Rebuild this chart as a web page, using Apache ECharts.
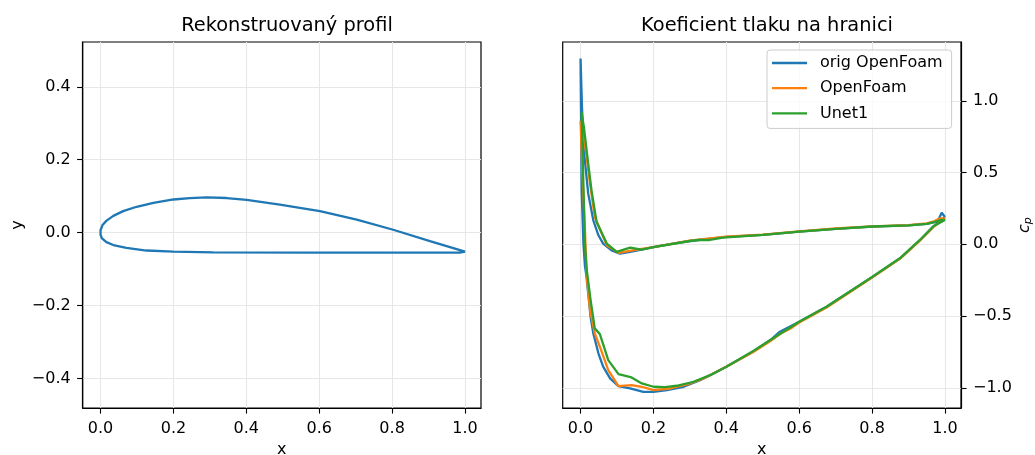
<!DOCTYPE html>
<html>
<head>
<meta charset="utf-8">
<script src="https://cdn.jsdelivr.net/npm/echarts@6/dist/echarts.min.js"></script>
<style>
html,body{margin:0;padding:0;background:#fff;}
#chart{width:1035px;height:455px;}
</style>
</head>
<body>
<div id="chart"></div>
<script>
// ---- Data ----
const titles = ['Rekonstruovaný profil', 'Koeficient tlaku na hranici'];
const seriesNames = ['orig OpenFoam', 'OpenFoam', 'Unet1'];
const xTicks = [0, 0.2, 0.4, 0.6, 0.8, 1.0];
const yTicksProfile = [-0.4, -0.2, 0, 0.2, 0.4];
const yTicksCp = [-1.0, -0.5, 0, 0.5, 1.0];

// airfoil outline: upper surface LE->TE, lower surface TE->LE
const profileUpper = [[0,0.0],[0.0,0.007],[0.0055,0.021],[0.0165,0.033],[0.035,0.046],[0.062,0.059],[0.099,0.071],[0.145,0.082],[0.2,0.091],[0.245,0.095],[0.291,0.097],[0.346,0.095],[0.401,0.090],[0.492,0.077],[0.602,0.059],[0.703,0.036],[0.803,0.008],[0.904,-0.023],[1.0,-0.052]];
const profileLower = [[1.0,-0.052],[0.986,-0.055],[0.858,-0.055],[0.584,-0.055],[0.309,-0.054],[0.2,-0.052],[0.126,-0.049],[0.071,-0.042],[0.035,-0.034],[0.016,-0.026],[0.004,-0.016],[0,-0.006],[0,0.0]];

// Cp loops: TE -> (lower surface) -> LE -> (upper surface) -> TE
const cpOrig = [[1.0,0.19],[0.991,0.22],[0.98,0.16],[0.95,0.142],[0.9,0.132],[0.8,0.123],[0.7,0.108],[0.6,0.088],[0.5,0.066],[0.4,0.052],[0.3,0.023],[0.25,0.003],[0.2,-0.019],[0.15,-0.045],[0.136,-0.053],[0.108,-0.065],[0.085,-0.042],[0.062,0.005],[0.049,0.063],[0.035,0.167],[0.021,0.353],[0.009,0.656],[0.004,0.95],[0.0,1.295],
  [0.003,0.38],[0.008,0.0],[0.012,-0.15],[0.016,-0.22],[0.021,-0.342],[0.0275,-0.505],[0.035,-0.621],[0.049,-0.76],[0.062,-0.853],[0.081,-0.935],[0.104,-0.988],[0.136,-1.005],[0.172,-1.028],[0.2,-1.028],[0.237,-1.016],[0.283,-0.993],[0.328,-0.947],[0.4,-0.853],[0.466,-0.76],[0.521,-0.667],[0.547,-0.609],[0.6,-0.54],[0.675,-0.435],[0.8,-0.23],[0.877,-0.098],[0.932,0.03],[0.968,0.123],[1.0,0.19]];
const cpOpenFoam = [[1.0,0.18],[0.985,0.18],[0.97,0.16],[0.95,0.146],[0.9,0.133],[0.8,0.125],[0.7,0.11],[0.6,0.09],[0.5,0.068],[0.4,0.053],[0.3,0.025],[0.2,-0.019],[0.154,-0.037],[0.104,-0.06],[0.072,-0.007],[0.039,0.19],[0.026,0.423],[0.012,0.70],[0.0,0.86],
  [0.005,0.5],[0.012,0.1],[0.017,-0.226],[0.026,-0.458],[0.039,-0.621],[0.053,-0.714],[0.076,-0.877],[0.104,-0.988],[0.14,-0.981],[0.168,-0.993],[0.2,-1.016],[0.246,-1.005],[0.292,-0.977],[0.338,-0.935],[0.4,-0.853],[0.475,-0.749],[0.521,-0.674],[0.55,-0.62],[0.574,-0.59],[0.6,-0.545],[0.675,-0.44],[0.8,-0.232],[0.877,-0.1],[0.932,0.028],[0.968,0.12],[1.0,0.18]];
const cpUnet1 = [[1.0,0.17],[0.99,0.17],[0.97,0.155],[0.95,0.143],[0.9,0.132],[0.8,0.124],[0.7,0.108],[0.6,0.088],[0.5,0.066],[0.39,0.046],[0.355,0.03],[0.323,0.03],[0.3,0.023],[0.2,-0.019],[0.168,-0.037],[0.136,-0.023],[0.099,-0.053],[0.072,0.005],[0.044,0.156],[0.03,0.377],[0.021,0.563],[0.01,0.80],[0.003,0.92],
  [0.008,0.4],[0.012,0.0],[0.017,-0.179],[0.0275,-0.388],[0.039,-0.586],[0.053,-0.626],[0.076,-0.807],[0.104,-0.905],[0.14,-0.928],[0.168,-0.970],[0.2,-0.993],[0.232,-0.995],[0.264,-0.986],[0.31,-0.958],[0.356,-0.912],[0.4,-0.853],[0.475,-0.742],[0.521,-0.667],[0.6,-0.54],[0.675,-0.435],[0.8,-0.228],[0.877,-0.096],[0.932,0.032],[0.968,0.125],[1.0,0.17]];

const colors = ['#1f77b4', '#ff7f0e', '#2ca02c'];
const FONT = 'DejaVu Sans';
const FS = 16;       // tick / label / legend font
const FS_TITLE = 19.4;
const LW = 2.3;
const fmt = v => (Math.abs(v) < 1e-9 ? 0 : v).toFixed(1).replace('-', '\u2212');
const axisLineCfg = {show: true, onZero: false, lineStyle: {color: '#000', width: 1.2}};
const tickCfg = vals => ({show: true, length: 5.6, lineStyle: {color: '#000', width: 1.1}, customValues: vals});
const splitCfg = {show: true, lineStyle: {color: '#e7e7e7', width: 1.1}};

function xAxisCfg(gridIndex) {
  return {
    type: 'value', gridIndex, min: -0.049, max: 1.044, position: 'bottom',
    name: 'x', nameLocation: 'middle', nameGap: 33,
    nameTextStyle: {fontFamily: FONT, fontSize: FS, color: '#000'},
    axisLine: axisLineCfg,
    axisTick: tickCfg(xTicks),
    axisLabel: {margin: 13, fontFamily: FONT, fontSize: FS, color: '#000', customValues: xTicks, formatter: fmt},
    splitLine: splitCfg
  };
}

const gridBase = {top: 42, width: 398.3, height: 366, show: true, borderColor: '#000', borderWidth: 1.2,
  backgroundColor: 'transparent', containLabel: false, outerBoundsMode: 'none'};

const option = {
  animation: false,
  backgroundColor: '#fff',
  title: [
    {text: titles[0], left: 282, top: 11, textAlign: 'center', textStyle: {fontFamily: FONT, fontSize: FS_TITLE, fontWeight: 'normal', color: '#000'}},
    {text: titles[1], left: 762, top: 11, textAlign: 'center', textStyle: {fontFamily: FONT, fontSize: FS_TITLE, fontWeight: 'normal', color: '#000'}}
  ],
  grid: [
    Object.assign({left: 82.7}, gridBase),
    Object.assign({left: 562.7}, gridBase)
  ],
  xAxis: [xAxisCfg(0), xAxisCfg(1)],
  yAxis: [
    {type: 'value', gridIndex: 0, min: -0.481, max: 0.523, position: 'left',
     name: 'y', nameLocation: 'middle', nameGap: 57, nameRotate: 90,
     nameTextStyle: {fontFamily: FONT, fontSize: FS, color: '#000'},
     axisLine: axisLineCfg,
     axisTick: tickCfg(yTicksProfile),
     axisLabel: {margin: 12, fontFamily: FONT, fontSize: FS, color: '#000', customValues: yTicksProfile, formatter: fmt},
     splitLine: splitCfg},
    {type: 'value', gridIndex: 1, min: -1.141, max: 1.41, position: 'right',
     name: '{c|c}{p|p}', nameLocation: 'middle', nameGap: 55, nameRotate: 90,
     nameTextStyle: {fontFamily: FONT, fontSize: FS, color: '#000',
       rich: {c: {fontFamily: FONT, fontStyle: 'italic', fontSize: FS, color: '#000'},
              p: {fontFamily: FONT, fontStyle: 'italic', fontSize: 11.2, color: '#000', padding: [7, 0, 0, 0]}}},
     axisLine: axisLineCfg,
     axisTick: tickCfg(yTicksCp),
     axisLabel: {margin: 12, fontFamily: FONT, fontSize: FS, color: '#000', customValues: yTicksCp, formatter: fmt},
     splitLine: splitCfg}
  ],
  legend: {
    data: seriesNames, orient: 'vertical', left: 767, top: 50,
    icon: 'rect', itemWidth: 35, itemHeight: 2.3, itemGap: 9.2,
    padding: [5, 9, 7, 5],
    backgroundColor: 'rgba(255,255,255,0.8)', borderColor: '#cccccc', borderWidth: 1, borderRadius: 3,
    textStyle: {fontFamily: FONT, fontSize: FS, color: '#000', padding: [0, 0, 0, 8]}
  },
  series: [
    {type: 'line', xAxisIndex: 0, yAxisIndex: 0, data: profileUpper.concat(profileLower), showSymbol: false, symbol: 'none', smooth: false,
     lineStyle: {color: colors[0], width: LW}, itemStyle: {color: colors[0]}, silent: true},
    {name: seriesNames[0], type: 'line', xAxisIndex: 1, yAxisIndex: 1, data: cpOrig, symbol: 'none', lineStyle: {color: colors[0], width: LW}, itemStyle: {color: colors[0]}},
    {name: seriesNames[1], type: 'line', xAxisIndex: 1, yAxisIndex: 1, data: cpOpenFoam, symbol: 'none', lineStyle: {color: colors[1], width: LW}, itemStyle: {color: colors[1]}},
    {name: seriesNames[2], type: 'line', xAxisIndex: 1, yAxisIndex: 1, data: cpUnet1, symbol: 'none', lineStyle: {color: colors[2], width: LW}, itemStyle: {color: colors[2]}}
  ]
};

const chart = echarts.init(document.getElementById('chart'), null, {renderer: 'canvas'});
chart.setOption(option);
</script>
</body>
</html>
